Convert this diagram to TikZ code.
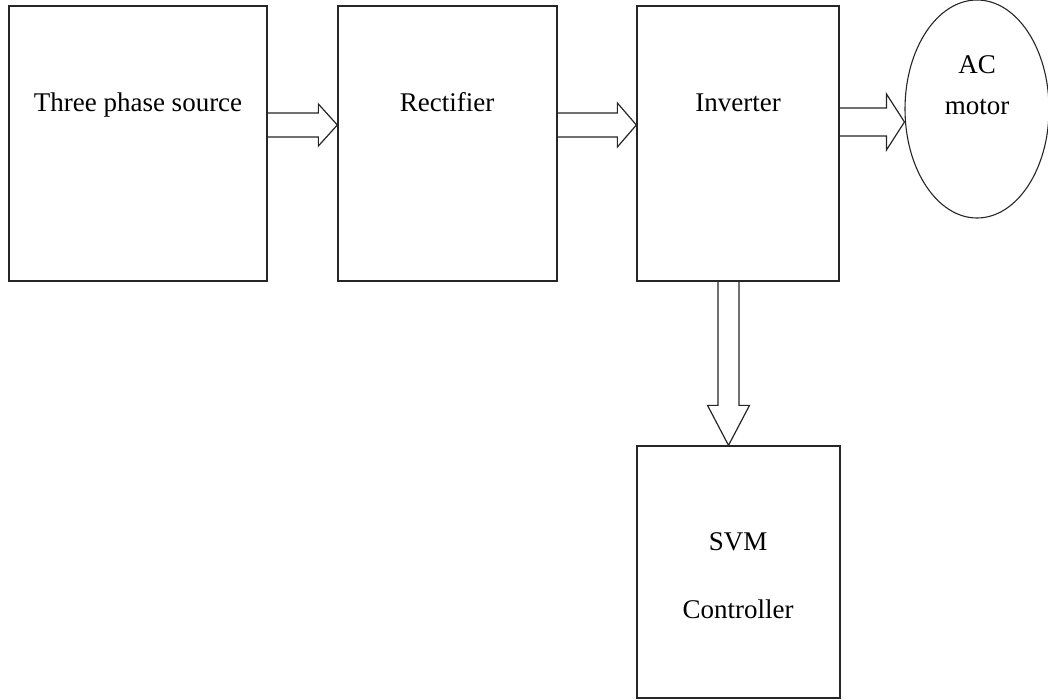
\documentclass[tikz,border=0pt]{standalone}
\usepackage{fontspec}
\setmainfont{Liberation Serif}
\usetikzlibrary{calc,shapes.geometric}
\tikzset{
  blk/.style={draw=black!85, line width=1.3pt, rectangle, inner sep=0pt},
  lbl/.style={font=\fontsize{27}{32}\selectfont, inner sep=0pt, anchor=base},
  arr/.style={draw=black!85, line width=1.2pt, line join=miter},
}
% horizontal block arrow: #1 start anchor (x used), #2 tip, #3 shaft half, #4 head half, #5 head length
\newcommand\hblockarrow[5]{%
  \draw[arr] let \p1=#1, \p2=#2 in
    (\x1,\y2+#3) -- (\x2-#5,\y2+#3) -- (\x2-#5,\y2+#4) -- (\p2)
    -- (\x2-#5,\y2-#4) -- (\x2-#5,\y2-#3) -- (\x1,\y2-#3);}
% vertical (downward) block arrow
\newcommand\vblockarrow[5]{%
  \draw[arr] let \p1=#1, \p2=#2 in
    (\x2-#3,\y1) -- (\x2-#3,\y2+#5) -- (\x2-#4,\y2+#5) -- (\p2)
    -- (\x2+#4,\y2+#5) -- (\x2+#3,\y2+#5) -- (\x2+#3,\y1);}
\begin{document}
\begin{tikzpicture}[x=1pt,y=-1pt]
\useasboundingbox (0,0) rectangle (1048,700);
\fill[white] (0,0) rectangle (1048,700);

\node[blk, minimum width=258pt, minimum height=275pt] (src) at (138,143.5) {};
\node[blk, minimum width=219pt, minimum height=275pt] (rect) at (447.5,143.5) {};
\node[blk, minimum width=202pt, minimum height=275pt] (inv) at (738,143.5) {};
\node[blk, minimum width=203pt, minimum height=252pt] (svm) at (738.5,572) {};
\node[draw=black!85, line width=1.1pt, ellipse, minimum width=144pt, minimum height=218pt, inner sep=0pt] (mot) at (977,109) {};

\node[lbl] (tsrc) at (138,112) {Three phase source};
\node[lbl] (trect) at (447,112) {Rectifier};
\node[lbl] (tinv) at (738,112) {Inverter};
\node[lbl] (tac) at (977,74) {AC};
\node[lbl] (tmot) at (977,115) {motor};
\node[lbl] (tsvm) at (738,550) {SVM};
\node[lbl] (tctl) at (738,618) {Controller};

\hblockarrow{(src.east)}{(rect.west |- 0,125)}{12pt}{21pt}{19pt}
\hblockarrow{(rect.east)}{(inv.west |- 0,125)}{12pt}{22pt}{19pt}
\hblockarrow{(inv.east)}{(mot.west |- 0,122)}{14pt}{28pt}{18pt}
\vblockarrow{(inv.south)}{($(svm.north)+(-10,0)$)}{10.5pt}{21pt}{40pt}
\end{tikzpicture}
\end{document}
